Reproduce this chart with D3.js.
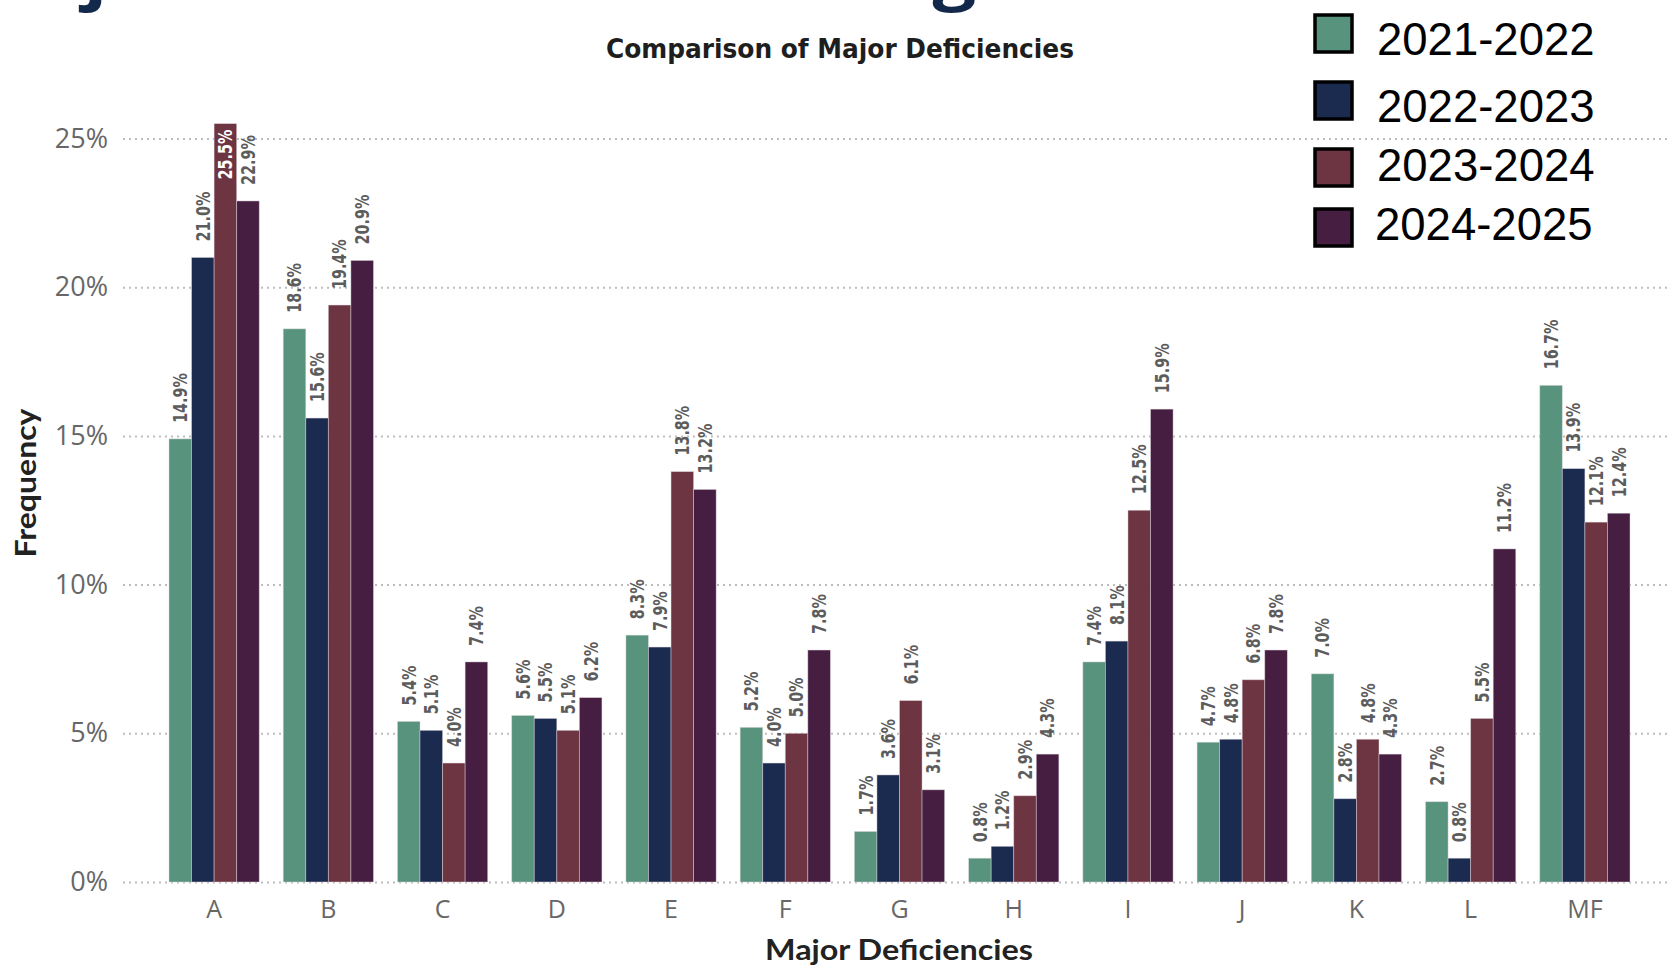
<!DOCTYPE html>
<html>
<head>
<meta charset="utf-8">
<script src="https://cdn.jsdelivr.net/npm/d3@7"></script>
<style>
  body { margin: 0; background: #fff; }
  svg { display: block; }
  .tick text { fill: #676767; font-family: "Open Sans", sans-serif; font-weight: 400; }
  .grid .tick line { stroke: #bdbdbd; stroke-width: 2; stroke-dasharray: 2,4; }
  .barLabel { font-family: "DejaVu Sans Condensed", sans-serif; font-weight: bold; font-size: 19px; fill: #5c5c5c; }
</style>
</head>
<body>
<div id="chart"></div>
<script>
// major deficiencies, four school years side by side

// categories along the bottom
var categories = ['A', 'B', 'C', 'D', 'E', 'F', 'G', 'H', 'I', 'J', 'K', 'L', 'MF'];

// series (one per year)
var years = ['2021-2022', '2022-2023', '2023-2024', '2024-2025'];
var y2021 = [14.9, 18.6, 5.4, 5.6, 8.3, 5.2, 1.7, 0.8, 7.4, 4.7, 7.0, 2.7, 16.7];
var y2022 = [21.0, 15.6, 5.1, 5.5, 7.9, 4.0, 3.6, 1.2, 8.1, 4.8, 2.8, 0.8, 13.9];
var y2023 = [25.5, 19.4, 4.0, 5.1, 13.8, 5.0, 6.1, 2.9, 12.5, 6.8, 4.8, 5.5, 12.1];
var y2024 = [22.9, 20.9, 7.4, 6.2, 13.2, 7.8, 3.1, 4.3, 15.9, 7.8, 4.3, 11.2, 12.4];

// y ticks
var yTicks = [0, 5, 10, 15, 20, 25];

var colors = ['#58937d', '#1b2b50', '#6d3441', '#461e41'];

var svgWidth = 1667;
var svgHeight = 968;

var svg = d3.select('#chart')
  .append('svg')
  .attr('width', svgWidth)
  .attr('height', svgHeight);

svg.append('rect')
  .attr('width', svgWidth)
  .attr('height', svgHeight)
  .attr('fill', '#fff');

// build rows for d3
var seriesValues = [y2021, y2022, y2023, y2024];
var rows = categories.map(function(c, i) {
  return {
    cat: c,
    vals: years.map(function(yr, j) { return { year: yr, idx: j, value: seriesValues[j][i] }; })
  };
});

// scales
var x0 = d3.scaleBand()
  .domain(categories)
  .range([157, 1642])
  .paddingInner(0.21)
  .paddingOuter(0.105);

var x1 = d3.scaleBand()
  .domain(years)
  .range([0, x0.bandwidth()]);

var yScale = d3.scaleLinear()
  .domain([0, 25])
  .range([882, 138.5]);

// gridlines + y labels in one left axis hung from the right edge
var yAxis = d3.axisLeft(yScale)
  .tickValues(yTicks)
  .tickSizeInner(svgWidth - 123)
  .tickSizeOuter(0)
  .tickPadding(15)
  .tickFormat(function(d) { return d + '%'; });

var gridGroup = svg.append('g')
  .attr('class', 'grid')
  .attr('transform', 'translate(' + svgWidth + ',0)')
  .call(yAxis);
gridGroup.select('.domain').remove();
gridGroup.selectAll('text').style('font-size', '27px');

// x axis labels
var xAxis = d3.axisBottom(x0).tickSize(0).tickPadding(18);
var xGroup = svg.append('g')
  .attr('transform', 'translate(0,882)')
  .call(xAxis);
xGroup.select('.domain').remove();
xGroup.selectAll('text').style('font-size', '25px');

// bars
var groups = svg.selectAll('.catGroup')
  .data(rows)
  .enter()
  .append('g')
  .attr('class', 'catGroup')
  .attr('transform', function(d) { return 'translate(' + x0(d.cat) + ',0)'; });

groups.selectAll('rect')
  .data(function(d) { return d.vals; })
  .enter()
  .append('rect')
  .attr('x', function(d) { return x1(d.year); })
  .attr('y', function(d) { return yScale(d.value); })
  .attr('width', x1.bandwidth())
  .attr('height', function(d) { return yScale(0) - yScale(d.value); })
  .attr('fill', function(d) { return colors[d.idx]; })
  .attr('stroke', '#e4dbe1')
  .attr('stroke-opacity', 0.55)
  .attr('stroke-width', 0.8);

// value labels, rotated; the one past the top of the axis goes inside
groups.selectAll('.barLabel')
  .data(function(d) { return d.vals; })
  .enter()
  .append('text')
  .attr('class', 'barLabel')
  .attr('transform', function(d) {
    var cx = x1(d.year) + x1.bandwidth() / 2;
    var yy = d.value > 25 ? yScale(d.value) + 6 : yScale(d.value) - 16;
    return 'translate(' + cx + ',' + yy + ') rotate(-90) scale(0.84,1)';
  })
  .attr('dy', '0.36em')
  .attr('text-anchor', function(d) { return d.value > 25 ? 'end' : 'start'; })
  .style('fill', function(d) { return d.value > 25 ? '#fff' : null; })
  .text(function(d) { return d.value.toFixed(1) + '%'; });

// cropped page title at the very top (only its descenders show)
svg.append('text')
  .attr('x', -22)
  .attr('y', -3)
  .attr('transform', 'translate(-9.2,0) scale(1.206,1)')
  .attr('font-family', 'Open Sans, sans-serif')
  .attr('font-weight', 'bold')
  .attr('font-size', 64)
  .attr('fill', '#13294b')
  .text('Major Deficiencies Findings');

// chart title
svg.append('text')
  .attr('x', 840)
  .attr('y', 58)
  .attr('text-anchor', 'middle')
  .attr('font-family', 'DejaVu Sans Condensed, sans-serif')
  .attr('font-weight', 'bold')
  .attr('font-size', 27)
  .attr('fill', '#1e1e1e')
  .attr('textLength', 468)
  .attr('lengthAdjust', 'spacingAndGlyphs')
  .text('Comparison of Major Deficiencies');

// axis titles
svg.append('text')
  .attr('transform', 'translate(36,483) rotate(-90)')
  .attr('text-anchor', 'middle')
  .attr('font-family', 'Lato, Open Sans, sans-serif')
  .attr('font-weight', 'bold')
  .attr('font-size', 28)
  .attr('fill', '#222')
  .attr('textLength', 149)
  .attr('lengthAdjust', 'spacingAndGlyphs')
  .text('Frequency');

svg.append('text')
  .attr('x', 899)
  .attr('y', 960)
  .attr('text-anchor', 'middle')
  .attr('font-family', 'Lato, Open Sans, sans-serif')
  .attr('font-weight', 'bold')
  .attr('font-size', 28)
  .attr('fill', '#222')
  .attr('textLength', 268)
  .attr('lengthAdjust', 'spacingAndGlyphs')
  .text('Major Deficiencies');

// legend (hand placed, as in the original)
var legendTops = [13, 80, 147, 207];
var legendBase = [55, 122, 181, 240];
var legend = svg.append('g').attr('class', 'legend');
years.forEach(function(yr, i) {
  legend.append('rect')
    .attr('x', 1315)
    .attr('y', legendTops[i] + 2)
    .attr('width', 37)
    .attr('height', 37)
    .attr('fill', colors[i])
    .attr('stroke', '#000')
    .attr('stroke-width', 3.5);
  legend.append('text')
    .attr('x', i === 3 ? 1375 : 1377)
    .attr('y', legendBase[i])
    .attr('font-family', 'Liberation Sans, Arial, sans-serif')
    .attr('font-size', 45.5)
    .attr('fill', '#000')
    .text(yr);
});
</script>
</body>
</html>
